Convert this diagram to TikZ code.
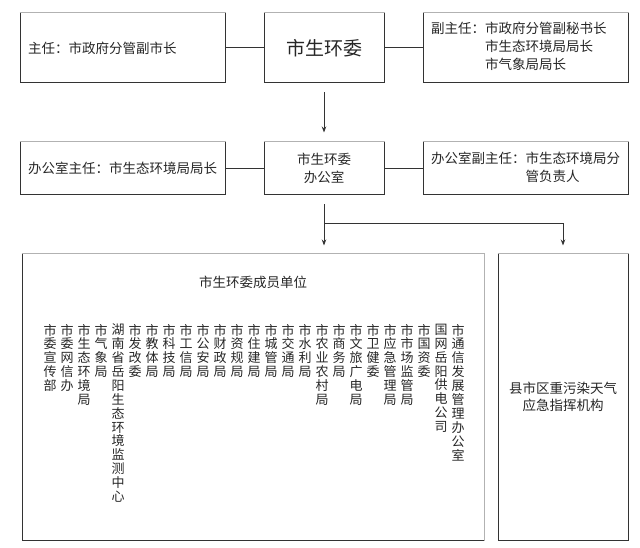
\documentclass[tikz,border=0pt]{standalone}
\usepackage{fontspec}
\setmainfont{Noto Sans CJK SC}
\usetikzlibrary{positioning,arrows.meta}
\makeatletter
\def\colchars#1{\colchars@#1\@nil}
\def\colchars@#1#2\@nil{#1\ifx\relax#2\relax\else\\\colchars@#2\@nil\fi}
\makeatother
\begin{document}
\begin{tikzpicture}[x=1pt, y=-1pt, node distance=38pt, line width=1pt, draw=black!80, text=black!85,
        side/.style={draw, text width=189pt, inner xsep=8pt, inner ysep=0pt, align=left, font=\fontsize{13.5}{18}\selectfont},
        mid/.style={draw, minimum width=120pt, inner sep=0pt, align=center, font=\fontsize{13.5}{18}\selectfont},
        member/.style={inner sep=0pt, anchor=north, align=center, font=\fontsize{13}{13.9}\selectfont},
        topedge/.style={draw=black!30},
        arr/.style={-{Stealth[length=6pt,width=4.5pt]}}]
        \useasboundingbox (0,0) rectangle (640,548);
        \node[mid, minimum height=70pt, font=\fontsize{19}{22}\selectfont] (wei) at (324,48) {市生环委};
        \node[side, minimum height=70pt, left=of wei] (zr) {主任：市政府分管副市长};
        \node[side, minimum height=70pt, right=of wei] (fzr) {\begin{tabular}{@{}l@{}l@{}}副主任：&市政府分管副秘书长\\&市生态环境局局长\\&市气象局局长\end{tabular}};
        \node[mid, minimum height=53pt] (ban) at (324,168.5) {市生环委\\办公室};
        \node[side, minimum height=53pt, left=of ban] (bzr) {办公室主任：市生态环境局局长};
        \node[side, minimum height=53pt, right=of ban] (fbzr) {\begin{tabular}{@{}l@{}l@{}}办公室副主任：&市生态环境局分\\&管负责人\end{tabular}};
        \node[draw, minimum width=462pt, minimum height=286pt] (members) at (253,397) {};
        \node[font=\fontsize{13.5}{18}\selectfont] (title) at (253,282) {市生环委成员单位};
        \foreach \dept [count=\i] in {市委宣传部,市委网信办,市生态环境局,市气象局,湖南省岳阳生态环境监测中心,%
                市发改委,市教体局,市科技局,市工信局,市公安局,市财政局,市资规局,市住建局,市城管局,%
                市交通局,市水利局,市农业农村局,市商务局,市文旅广电局,市卫健委,市应急管理局,%
                市市场监管局,市国资委,国网岳阳供电公司,市通信发展管理办公室}
            \node[member] (u\i) at ({50+17*(\i-1)},323.5) {\expandafter\colchars\expandafter{\dept}};
        \node[draw, minimum width=130pt, minimum height=286pt, align=center, font=\fontsize{13.5}{16.5}\selectfont] (county) at (563,397) {县市区重污染天气\\应急指挥机构};
        \coordinate (fork) at (324,224);
        \draw (zr) -- (wei);
        \draw (wei) -- (fzr);
        \draw (bzr) -- (ban);
        \draw (ban) -- (fbzr);
        \draw[arr, shorten <=9pt, shorten >=9pt] (wei) -- (ban);
        \draw[arr, shorten <=9pt, shorten >=8pt] (ban.south) -- (ban.south |- members.north);
        \draw[arr, shorten >=8pt] (fork) -| (county.north);
        \foreach \b in {zr,wei,fzr,bzr,ban,fbzr,members,county}
            \draw[topedge] (\b.north west) -- (\b.north east);
        \draw[topedge] (members.north east) -- (members.south east);
    \end{tikzpicture}
\end{document}
